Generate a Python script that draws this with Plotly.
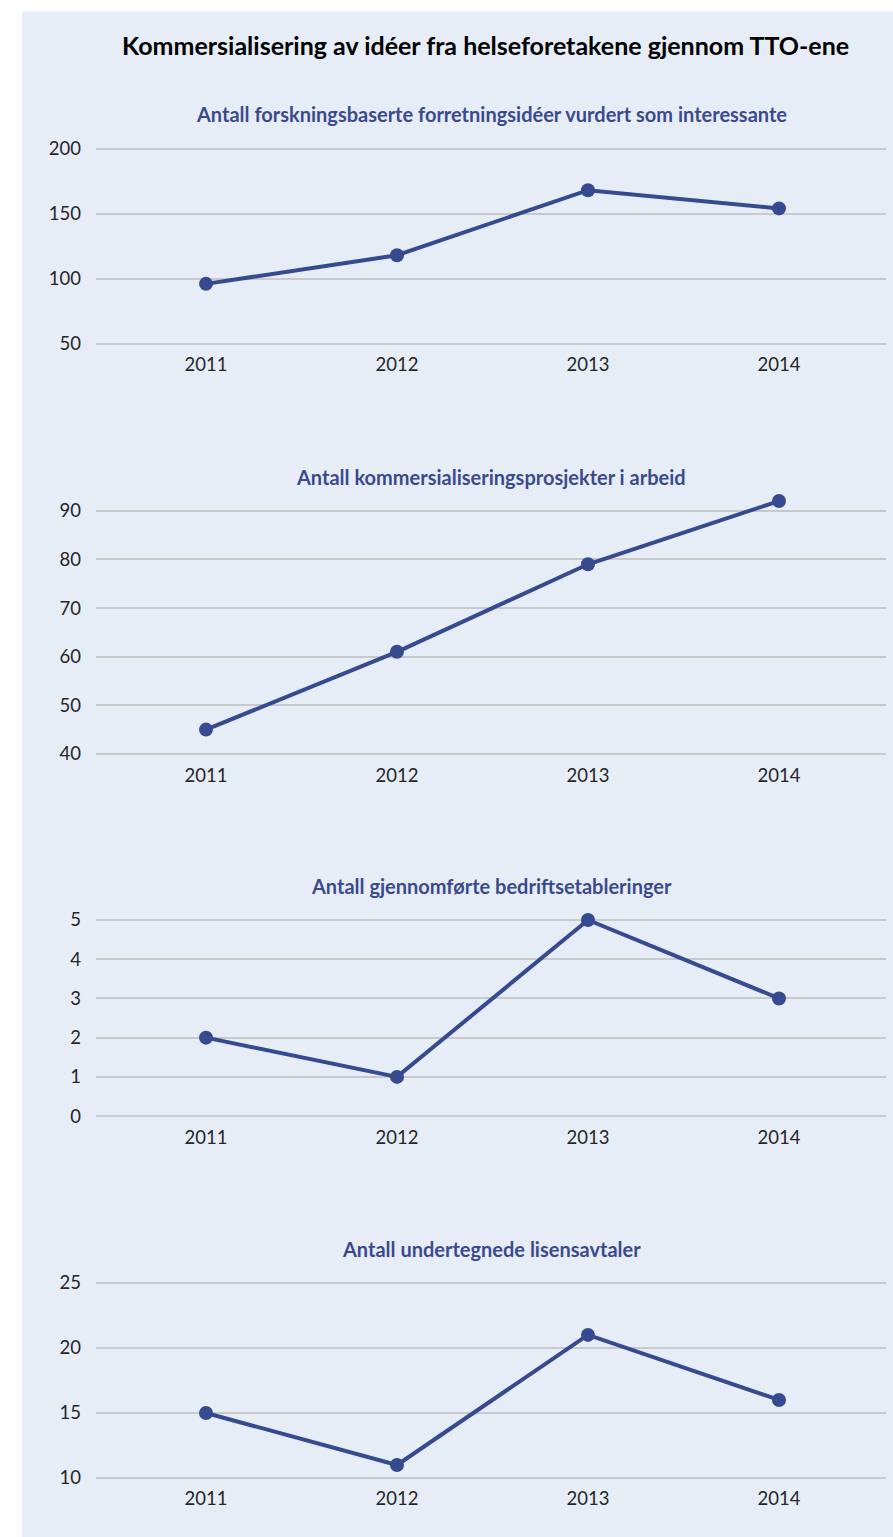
import plotly.graph_objects as go

# ---------------- data ----------------
years = ["2011", "2012", "2013", "2014"]

main_title = "Kommersialisering av idéer fra helseforetakene gjennom TTO-ene"

titles = [
    "Antall forskningsbaserte forretningsidéer vurdert som interessante",
    "Antall kommersialiseringsprosjekter i arbeid",
    "Antall gjennomførte bedriftsetableringer",
    "Antall undertegnede lisensavtaler",
]

ideas = [96, 118, 168, 154]
projects = [45, 61, 79, 92]
companies = [2, 1, 5, 3]
licenses = [15, 11, 21, 16]

series = [ideas, projects, companies, licenses]

ticks_1 = [50, 100, 150, 200]
ticks_2 = [40, 50, 60, 70, 80, 90]
ticks_3 = [0, 1, 2, 3, 4, 5]
ticks_4 = [10, 15, 20, 25]
yticks = [ticks_1, ticks_2, ticks_3, ticks_4]

# ---------------- layout (pixels) ----------------
W, H = 893, 1537
BG = "#e7edf7"
LINE = "#364a8f"
SUB = "#3b4a8e"
GRID = "#c8c9cc"
FONT = "Lato"


def py(y):
    """map a target vertical pixel position to the figure's pixel space"""
    return (y - 8.5) / 0.9897


x_left, x_right = 96, 886
# (pixel of top tick, pixel of bottom tick, range pad in units)
panels_px = [
    (149, 344, 3.0),
    (511, 754, 1.0),
    (920, 1116, 0.1),
    (1282.7, 1477.7, 0.3),
]
sub_y = [114, 477, 886, 1249]
first_x_px, step_px = 206, 191

fig = go.Figure()

xr = [-(first_x_px - x_left) / step_px, 3 + (x_right - (first_x_px + 3 * step_px)) / step_px]

for i, (vals, tv) in enumerate(zip(series, yticks)):
    top_px, bot_px, pad = panels_px[i]
    top_px, bot_px = py(top_px), py(bot_px)
    lo, hi = tv[0], tv[-1]
    ppu = (bot_px - top_px) / (hi - lo)
    rng = [lo - pad, hi + pad]
    if i == 1:
        rng = [lo - pad, 94]
    dom_top = top_px - (rng[1] - hi) * ppu
    dom_bot = bot_px + (lo - rng[0]) * ppu
    sfx = "" if i == 0 else str(i + 1)
    fig.add_trace(go.Scatter(
        x=years, y=vals, mode="lines+markers",
        line=dict(color=LINE, width=4),
        marker=dict(color=LINE, size=14),
        xaxis="x" + sfx, yaxis="y" + sfx,
        showlegend=False, hoverinfo="x+y",
        cliponaxis=False,
    ))
    fig.layout["xaxis" + sfx] = dict(
        domain=[x_left / W, x_right / W],
        anchor="y" + sfx,
        type="category",
        range=xr,
        showgrid=False, zeroline=False, showline=False,
        ticks="", ticklabelstandoff=4,
        tickfont=dict(family=FONT, size=18.5, color="#262626"),
        fixedrange=True,
    )
    fig.layout["yaxis" + sfx] = dict(
        domain=[1 - dom_bot / H, 1 - dom_top / H],
        anchor="x" + sfx,
        range=rng,
        tickvals=tv,
        showgrid=True, gridcolor=GRID, gridwidth=1.6,
        zeroline=False, showline=False,
        ticks="", ticklabelstandoff=14,
        tickfont=dict(family=FONT, size=18.5, color="#262626"),
        fixedrange=True,
    )
    fig.add_annotation(
        x=(x_left + x_right) / 2 / W, y=1 - py(sub_y[i]) / H,
        xref="paper", yref="paper", xanchor="center", yanchor="middle",
        text="<b>" + titles[i] + "</b>", showarrow=False,
        font=dict(family=FONT, size=20, color=SUB),
    )

fig.add_annotation(
    x=486 / W, y=1 - py(45) / H, xref="paper", yref="paper",
    xanchor="center", yanchor="middle",
    text="<b>" + main_title + "</b>", showarrow=False,
    font=dict(family=FONT, size=25, color="#000000"),
)

fig.add_shape(
    type="rect", xref="paper", yref="paper",
    x0=22 / W, x1=1.0, y0=-0.02, y1=1 - py(12) / H,
    fillcolor=BG, line=dict(width=0), layer="below",
)

fig.update_layout(
    width=W, height=H,
    margin=dict(l=0, r=0, t=0, b=0),
    paper_bgcolor="white",
    plot_bgcolor="rgba(0,0,0,0)",
    font=dict(family=FONT),
)

fig.write_html(
    "out.html",
    config={"displayModeBar": False},
    post_script=(
        "document.documentElement.style.margin='0';"
        "document.documentElement.style.background="
        "'linear-gradient(to bottom, #ffffff 0%, #ffffff 50%, " + BG + " 50%, " + BG + " 100%)';"
        "document.documentElement.style.minHeight='100%';"
        "document.body.style.margin='0';"
        "document.body.style.padding='0';"
        "document.body.style.overflow='hidden';"
        "var gd=document.getElementById('{plot_id}');"
        "gd.style.position='fixed';gd.style.top='0px';gd.style.left='0px';"
    ),
)
